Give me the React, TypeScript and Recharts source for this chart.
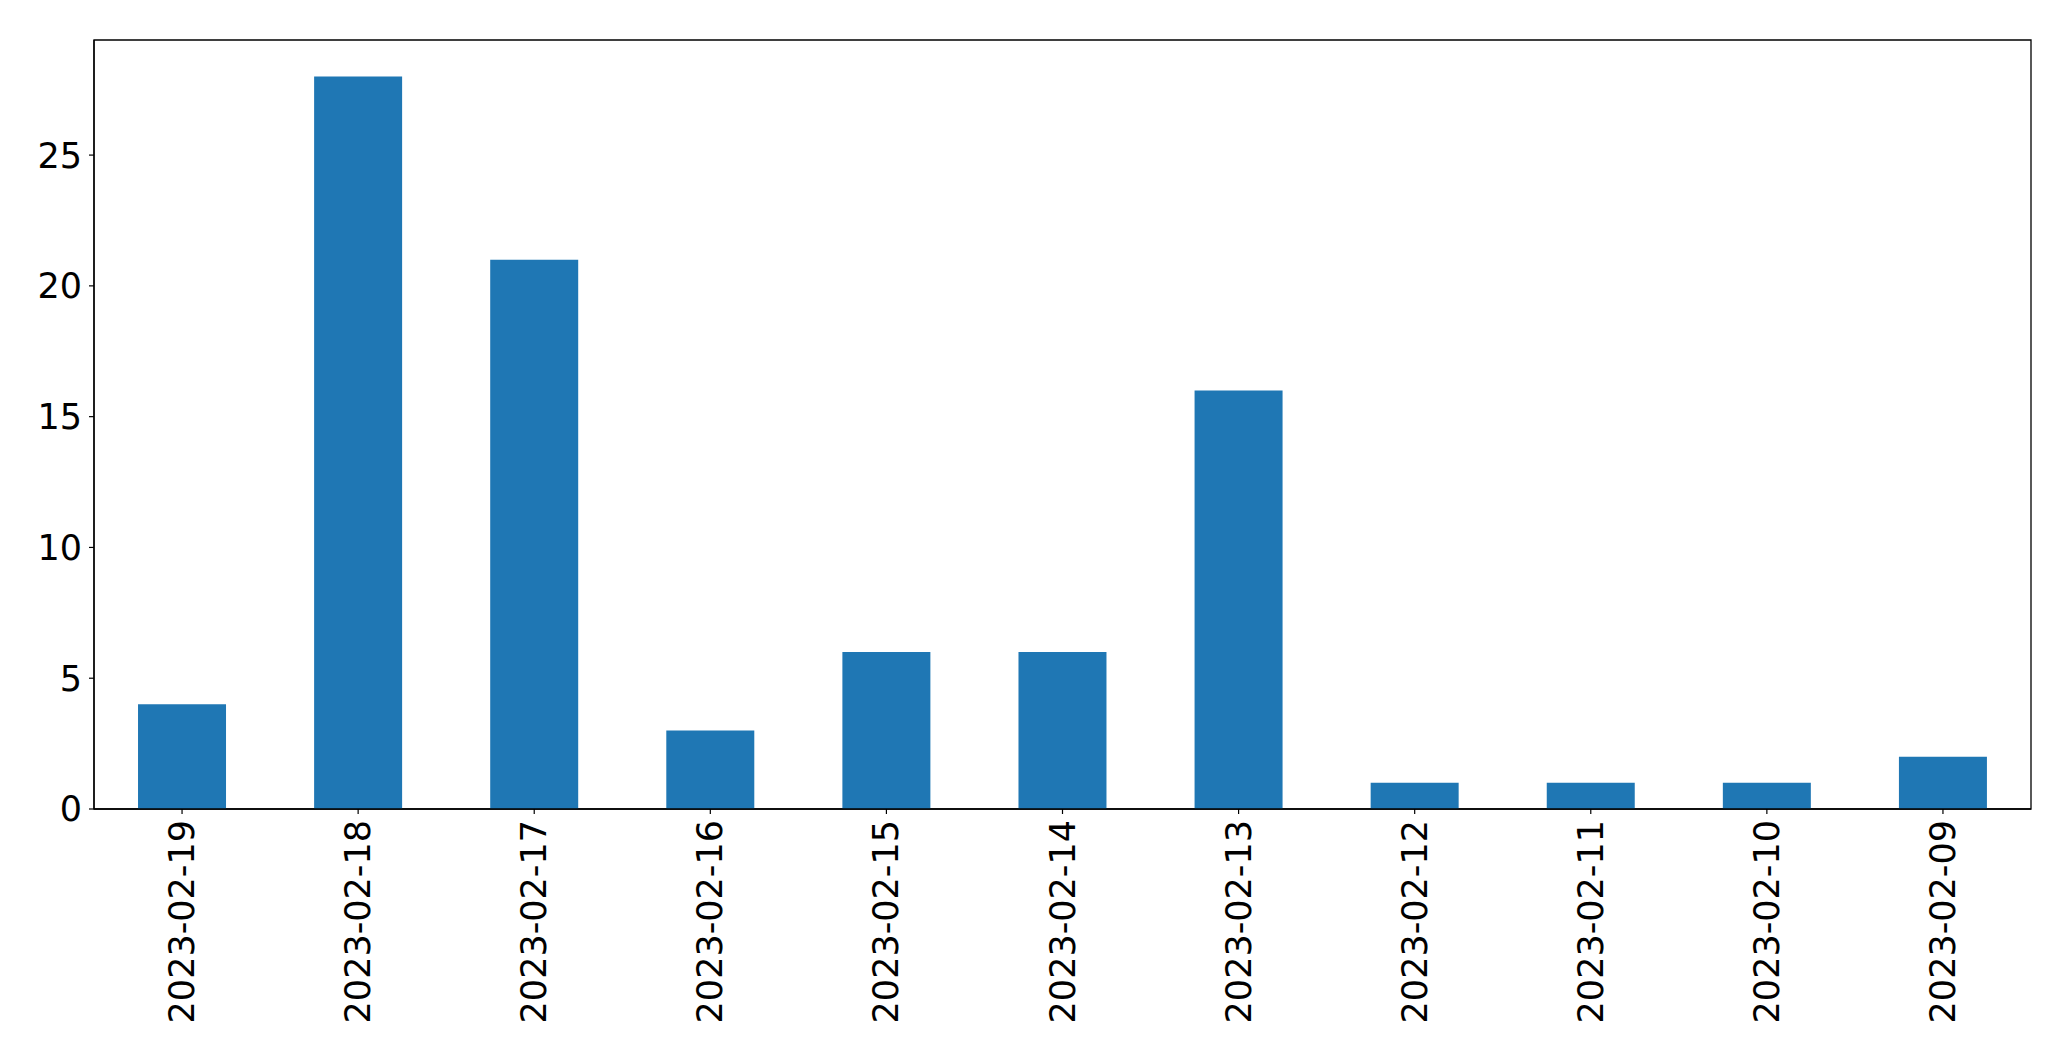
import React from 'react';
import { BarChart, Bar, XAxis, YAxis, ReferenceArea } from 'recharts';

const dates = [
  '2023-02-19', '2023-02-18', '2023-02-17', '2023-02-16', '2023-02-15', '2023-02-14',
  '2023-02-13', '2023-02-12', '2023-02-11', '2023-02-10', '2023-02-09',
];
const counts = [4, 28, 21, 3, 6, 6, 16, 1, 1, 1, 2];
const yTicks = [0, 5, 10, 15, 20, 25];
const yMax = 29.4;

const data = dates.map((d, i) => ({ date: d, count: counts[i] }));

const FONT = '"DejaVu Sans", sans-serif';

const DateTick = (props: any) => {
  const { x, y, payload } = props;
  return (
    <g transform={`translate(${x},${y})`}>
      <text
        transform="rotate(-90)"
        x={-6}
        y={0}
        textAnchor="end"
        dominantBaseline="central"
        fill="#000"
        fontSize={35}
        fontFamily={FONT}
      >
        {payload.value}
      </text>
    </g>
  );
};

const App: React.FC = () => {
  return (
    <div style={{ position: 'absolute', left: 0, top: 0, background: '#fff' }}>
      <BarChart
        width={2071}
        height={1061}
        data={data}
        margin={{ top: 40, right: 40, bottom: 0, left: 0 }}
        barCategoryGap="25%"
      >
        <XAxis
          dataKey="date"
          interval={0}
          height={252}
          tickSize={5}
          tickMargin={0}
          tickLine={{ stroke: '#000', strokeWidth: 1.2 }}
          axisLine={{ stroke: '#000', strokeWidth: 1.3 }}
          tick={<DateTick />}
        />
        <YAxis
          domain={[0, yMax]}
          ticks={yTicks}
          width={94}
          tickSize={5}
          tickMargin={7}
          tickLine={{ stroke: '#000', strokeWidth: 1.2 }}
          axisLine={{ stroke: '#000', strokeWidth: 1.3 }}
          tick={{ fill: '#000', fontSize: 35, fontFamily: FONT }}
        />
        <Bar dataKey="count" fill="#1f77b4" isAnimationActive={false} />
        <ReferenceArea
          y1={0}
          y2={yMax}
          fill="none"
          fillOpacity={0}
          stroke="#000"
          strokeWidth={1.3}
          ifOverflow="visible"
        />
      </BarChart>
    </div>
  );
};

export default App;
